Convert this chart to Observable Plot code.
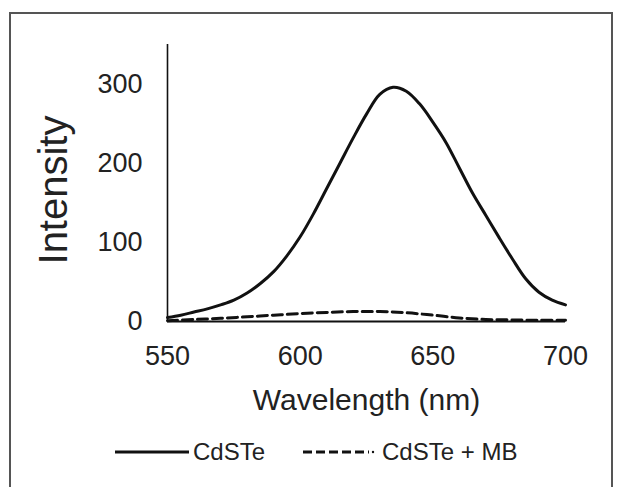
<!DOCTYPE html>
<html>
<head>
<meta charset="utf-8">
<script src="https://cdn.jsdelivr.net/npm/d3@7"></script>
<script src="https://cdn.jsdelivr.net/npm/@observablehq/plot@0.6"></script>
<style>
  html, body { margin: 0; padding: 0; background: #fff; }
  body { width: 617px; height: 487px; position: relative; overflow: hidden; font-family: "Liberation Sans", Arial, sans-serif; }
  #chart { position: absolute; left: 0; top: 0; }
  #frame { position: absolute; left: 9px; top: 12px; width: 604px; height: 520px; border: 2px solid #555; box-sizing: border-box; pointer-events: none; }
  #legend { position: absolute; left: 0; top: 436px; width: 617px; height: 32px; }
  .item { position: absolute; top: 0; height: 32px; display: flex; align-items: center; font-size: 24px; color: #222; }
  .item svg { display: block; }
</style>
</head>
<body>
<div id="chart"></div>
<div id="legend"></div>
<div id="frame"></div>
<script>
// Wavelength grid for the CdSTe curve (nm)
const wavelengthsA = [550,555,560,565,570,575,580,585,590,595,600,605,610,615,620,625,630,635,640,645,650,655,660,665,670,675,680,685,690,695,700];
const cdste        = [5,8,12,16,21,27,36,48,63,83,107,136,168,200,232,262,287,296,291,275,252,226,194,162,134,106,79,54,37,27,21];
// Wavelength grid for the CdSTe + MB curve (nm)
const wavelengthsB = [550,560,570,580,590,600,610,620,630,640,650,660,670,680,690,700];
const cdsteMb      = [1,2.5,4,6,8,10,11.5,12.5,12.5,11,8,4.5,2.5,2,1.5,1.5];
const seriesNames  = ["CdSTe", "CdSTe + MB"];
const xTicks = [550, 600, 650, 700];
const yTicks = [0, 100, 200, 300];
const xLabel = "Wavelength (nm)";
const yLabel = "Intensity";

const dataA = wavelengthsA.map((w, i) => ({w, v: cdste[i]}));
const dataB = wavelengthsB.map((w, i) => ({w, v: cdsteMb[i]}));

const plot = Plot.plot({
  width: 617,
  height: 487,
  marginLeft: 167,
  marginRight: 52,
  marginTop: 44,
  marginBottom: 166,
  style: {background: "transparent", fontFamily: "Liberation Sans, Arial, sans-serif", color: "#222"},
  x: {domain: [550, 700]},
  y: {domain: [0, 350]},
  marks: [
    Plot.axisX({ticks: xTicks, tickSize: 0, tickPadding: 24, fontSize: 27, label: null, tickFormat: d => String(d)}),
    Plot.axisY({ticks: yTicks, tickSize: 0, tickPadding: 25, fontSize: 27, label: null, tickFormat: d => String(d)}),
    Plot.ruleX([550], {stroke: "#111", strokeWidth: 1.6}),
    Plot.line(dataB, {x: "w", y: "v", stroke: "#111", strokeWidth: 3, strokeDasharray: "10,5", curve: "catmull-rom"}),
    Plot.line(dataA, {x: "w", y: "v", stroke: "#111", strokeWidth: 3, curve: "catmull-rom"}),
    Plot.ruleY([0], {stroke: "#111", strokeWidth: 2}),
    Plot.text([xLabel], {frameAnchor: "bottom", textAnchor: "middle", lineAnchor: "bottom", dy: 88, fontSize: 30, fill: "#222"}),
    Plot.text([yLabel], {frameAnchor: "left", textAnchor: "middle", lineAnchor: "middle", rotate: -90, dx: -113, dy: 7, fontSize: 40, fill: "#222"})
  ]
});
document.getElementById("chart").appendChild(plot);

// Legend
const legend = document.getElementById("legend");
const items = [
  {name: seriesNames[0], left: 115, w: 74, dash: null},
  {name: seriesNames[1], left: 303, w: 72, dash: "9,4"}
];
for (const it of items) {
  const div = document.createElement("div");
  div.className = "item";
  div.style.left = it.left + "px";
  const svg = d3.create("svg").attr("width", it.w).attr("height", 32);
  svg.append("line").attr("x1", 0).attr("x2", it.dash ? it.w - 6 : it.w).attr("y1", 16).attr("y2", 16)
    .attr("stroke", "#111").attr("stroke-width", 3).attr("stroke-dasharray", it.dash);
  if (it.dash) svg.append("circle").attr("cx", it.w - 2).attr("cy", 16).attr("r", 1.2).attr("fill", "#111");
  div.appendChild(svg.node());
  const span = document.createElement("span");
  span.textContent = it.name;
  span.style.marginLeft = (it.dash ? 7 : 4) + "px";
  div.appendChild(span);
  legend.appendChild(div);
}
</script>
</body>
</html>
